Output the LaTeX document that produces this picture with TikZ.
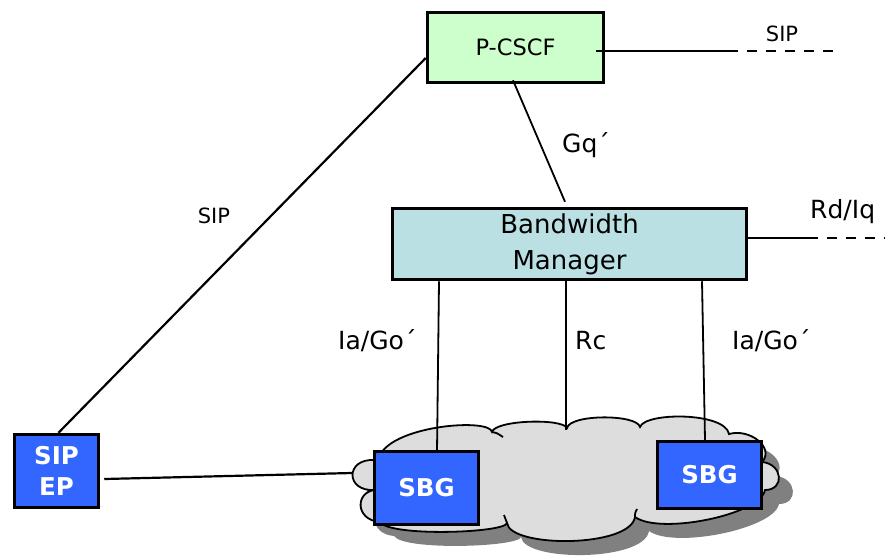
\documentclass[tikz,border=0pt]{standalone}
\usepackage{fontspec}
\setmainfont{DejaVu Sans}
\definecolor{pgreen}{HTML}{CCFFCC}
\definecolor{bmcyan}{HTML}{BBE0E3}
\definecolor{sbgblue}{HTML}{3366FF}
\definecolor{cloudgray}{HTML}{DDDDDD}
\definecolor{cloudshadow}{HTML}{808080}
\newcommand\cloudshape[1]{%
  \path[#1] (380,455) .. controls (395,425) and (490,418) .. (492,432)
   .. controls (495,420) and (562,418) .. (567,428)
   .. controls (570,414) and (637,414) .. (640,427)
   .. controls (645,412) and (725,412) .. (729,434)
   .. controls (750,428) and (775,448) .. (762,462)
   .. controls (783,464) and (785,490) .. (765,490)
   .. controls (760,515) and (660,535) .. (635,517)
   .. controls (630,548) and (510,548) .. (507,523)
   .. controls (505,533) and (390,537) .. (380,522)
   .. controls (355,520) and (355,492) .. (375,490)
   .. controls (345,492) and (345,458) .. (375,460)
   -- cycle;}
\begin{document}
\begin{tikzpicture}[x=1pt,y=-1pt,
  box/.style={draw=black, line width=3pt, inner sep=0pt},
  pbox/.style={box, fill=pgreen, minimum width=176.5pt, minimum height=70.5pt, font=\fontsize{22.5}{26}\selectfont},
  bmbox/.style={box, fill=bmcyan, minimum width=354.5pt, minimum height=71.5pt, align=center, font=\fontsize{26}{36}\selectfont},
  bluebox/.style={box, fill=sbgblue, text=white, align=center, font=\bfseries\fontsize{24.5}{31.5}\selectfont},
  conn/.style={draw=black, line width=2.2pt},
  vconn/.style={draw=black, line width=1.8pt},
  dashconn/.style={conn, dash pattern=on 10pt off 9pt},
  cloudline/.style={draw=black, line width=1.8pt},
  lbl/.style={inner sep=0pt, anchor=base west, font=\fontsize{25}{28}\selectfont},
  siplbl/.style={inner sep=0pt, font=\fontsize{21}{24}\selectfont},
]
\useasboundingbox (0,0) rectangle (885,555);
% cloud with shadow
\cloudshape{fill=cloudshadow, shift={(14,14)}}
\cloudshape{fill=cloudgray, cloudline}
\draw[cloudline] (492,432) .. controls (497,433) .. (503,437);
\draw[cloudline] (635,517) .. controls (635,513) .. (637,509);
\draw[cloudline] (507,523) .. controls (506,519) .. (504,515);
% nodes
\node[pbox] (pcscf) at (515.5,47.5) {P-CSCF};
\node[bmbox] (bm) at (569.5,244) {Bandwidth\\Manager};
\node[bluebox, minimum width=84.5pt, minimum height=73.5pt] (sipep) at (56.5,471) {SIP\\EP};
\node[bluebox, minimum width=104.5pt, minimum height=73.5pt] (sbgL) at (426.5,488) {SBG};
\node[bluebox, minimum width=104.5pt, minimum height=67.5pt] (sbgR) at (709.5,475) {SBG};
% free ends
\coordinate (sipA) at (728,51);
\coordinate (sipB) at (837,51);
\coordinate (rdA) at (808,238);
\coordinate (rdB) at (890,238);
\coordinate (cloudL) at (352,473);
\coordinate (cloudTop) at (566,430);
% connectors
\draw[conn] ([shift={(0,10.5)}]pcscf.west) -- ([shift={(2,0)}]sipep.north);
\draw[conn] ([shift={(4,8)}]sipep.east) -- (cloudL);
\draw[conn] ([shift={(-9,3.5)}]pcscf.east) -- (sipA);
\draw[dashconn] (sipA) -- (sipB);
\draw[conn] ([shift={(0,-6)}]bm.east) -- (rdA);
\draw[dashconn] (rdA) -- (rdB);
\draw[vconn] ([shift={(-2.5,-4)}]pcscf.south) -- ([shift={(-4.5,-5)}]bm.north);
\draw[vconn] ([shift={(-130.5,0)}]bm.south) -- ([shift={(10.5,2)}]sbgL.north);
\draw[vconn] ([shift={(-3.5,0)}]bm.south) -- (cloudTop);
\draw[vconn] ([shift={(132.5,0)}]bm.south) -- ([shift={(-4.5,0)}]sbgR.north);
% labels
\node[siplbl] (lsip1) at (782,34) {SIP};
\node[siplbl] (lsip2) at (214,215.5) {SIP};
\node[lbl] (lgq) at (562,152) {Gq´};
\node[lbl] (lia1) at (338,349) {Ia/Go´};
\node[lbl] (lrc) at (575,349) {Rc};
\node[lbl] (lia2) at (732,349) {Ia/Go´};
\node[lbl] (lrd) at (810,218) {Rd/Iq};
\end{tikzpicture}
\end{document}
